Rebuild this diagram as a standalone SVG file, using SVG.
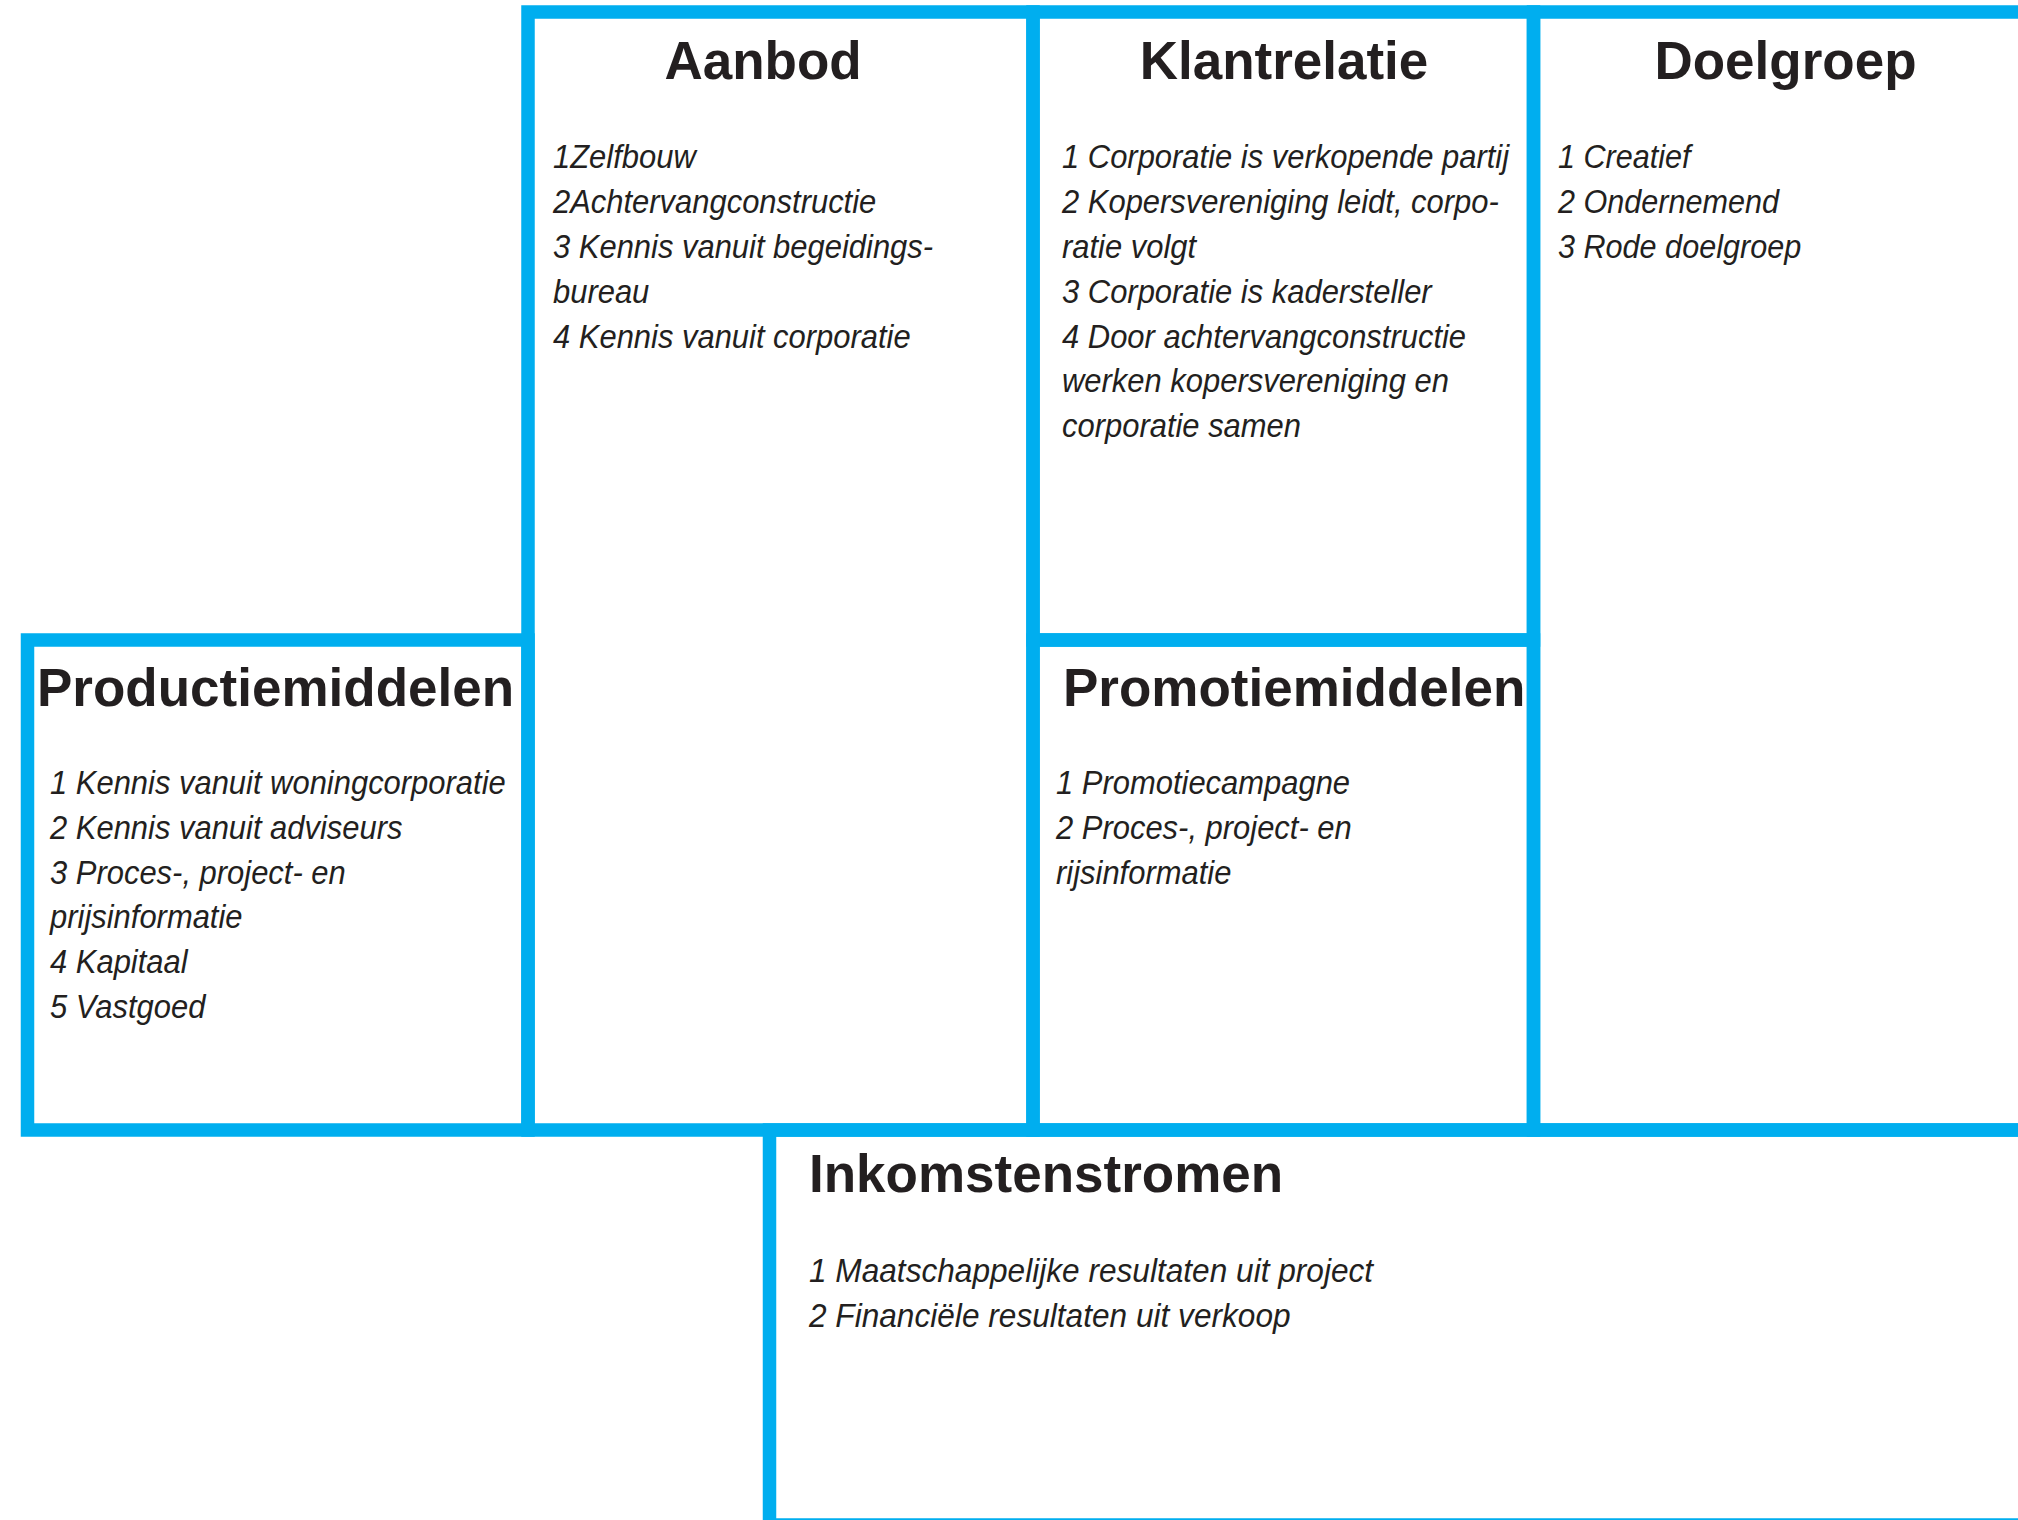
<svg xmlns="http://www.w3.org/2000/svg" width="2018" height="1520" viewBox="0 0 2018 1520">
<style>
.box{fill:none;stroke:#00aeef;stroke-width:13.5;stroke-linejoin:miter}
.t{font-family:"Liberation Sans",Arial,sans-serif;font-weight:bold;font-size:53px;fill:#231f20}
.b{font-family:"Liberation Sans",Arial,sans-serif;font-style:italic;font-size:34px;fill:#231f20}
</style>
<rect width="2018" height="1520" fill="#ffffff"/>
<g id="productiemiddelen">
<rect class="box" x="27.5" y="640" width="500.5" height="490"/>
<text class="t" x="37" y="706">Productiemiddelen</text>
<text class="b" transform="translate(50 0) scale(0.91 1)"><tspan x="0" y="794">1 Kennis vanuit woningcorporatie</tspan><tspan x="0" y="838.8">2 Kennis vanuit adviseurs</tspan><tspan x="0" y="883.6">3 Proces-, project- en</tspan><tspan x="0" y="928.4">prijsinformatie</tspan><tspan x="0" y="973.2">4 Kapitaal</tspan><tspan x="0" y="1018">5 Vastgoed</tspan></text>
</g>
<g id="aanbod">
<rect class="box" x="528" y="12" width="505" height="1118"/>
<text class="t" x="763" y="78.5" text-anchor="middle">Aanbod</text>
<text class="b" transform="translate(553 0) scale(0.91 1)"><tspan x="0" y="168.5">1Zelfbouw</tspan><tspan x="0" y="213.3">2Achtervangconstructie</tspan><tspan x="0" y="258.1">3 Kennis vanuit begeidings-</tspan><tspan x="0" y="302.9">bureau</tspan><tspan x="0" y="347.7">4 Kennis vanuit corporatie</tspan></text>
</g>
<g id="klantrelatie">
<rect class="box" x="1033" y="12" width="500.5" height="628"/>
<text class="t" x="1284" y="78.5" text-anchor="middle">Klantrelatie</text>
<text class="b" transform="translate(1062 0) scale(0.91 1)"><tspan x="0" y="168.5">1 Corporatie is verkopende partij</tspan><tspan x="0" y="213.3">2 Kopersvereniging leidt, corpo-</tspan><tspan x="0" y="258.1">ratie volgt</tspan><tspan x="0" y="302.9">3 Corporatie is kadersteller</tspan><tspan x="0" y="347.7">4 Door achtervangconstructie</tspan><tspan x="0" y="392.5">werken kopersvereniging en</tspan><tspan x="0" y="437.3">corporatie samen</tspan></text>
</g>
<g id="promotiemiddelen">
<rect class="box" x="1033" y="640" width="500.5" height="490"/>
<text class="t" x="1063" y="706">Promotiemiddelen</text>
<text class="b" transform="translate(1056 0) scale(0.91 1)"><tspan x="0" y="794">1 Promotiecampagne</tspan><tspan x="0" y="838.8">2 Proces-, project- en</tspan><tspan x="0" y="883.6">rijsinformatie</tspan></text>
</g>
<g id="doelgroep">
<rect class="box" x="1533.5" y="12" width="520" height="1118"/>
<text class="t" x="1785.5" y="79" text-anchor="middle">Doelgroep</text>
<text class="b" transform="translate(1558 0) scale(0.9 1)"><tspan x="0" y="168.5">1 Creatief</tspan><tspan x="0" y="213.3">2 Ondernemend</tspan><tspan x="0" y="258.1">3 Rode doelgroep</tspan></text>
</g>
<g id="inkomstenstromen">
<rect class="box" x="769.5" y="1130" width="1290" height="395"/>
<text class="t" x="809" y="1192">Inkomstenstromen</text>
<text class="b" transform="translate(809 0) scale(0.93 1)"><tspan x="0" y="1282.3">1 Maatschappelijke resultaten uit project</tspan><tspan x="0" y="1326.7">2 Financiële resultaten uit verkoop</tspan></text>
</g>
<g id="connectors"></g>
</svg>
